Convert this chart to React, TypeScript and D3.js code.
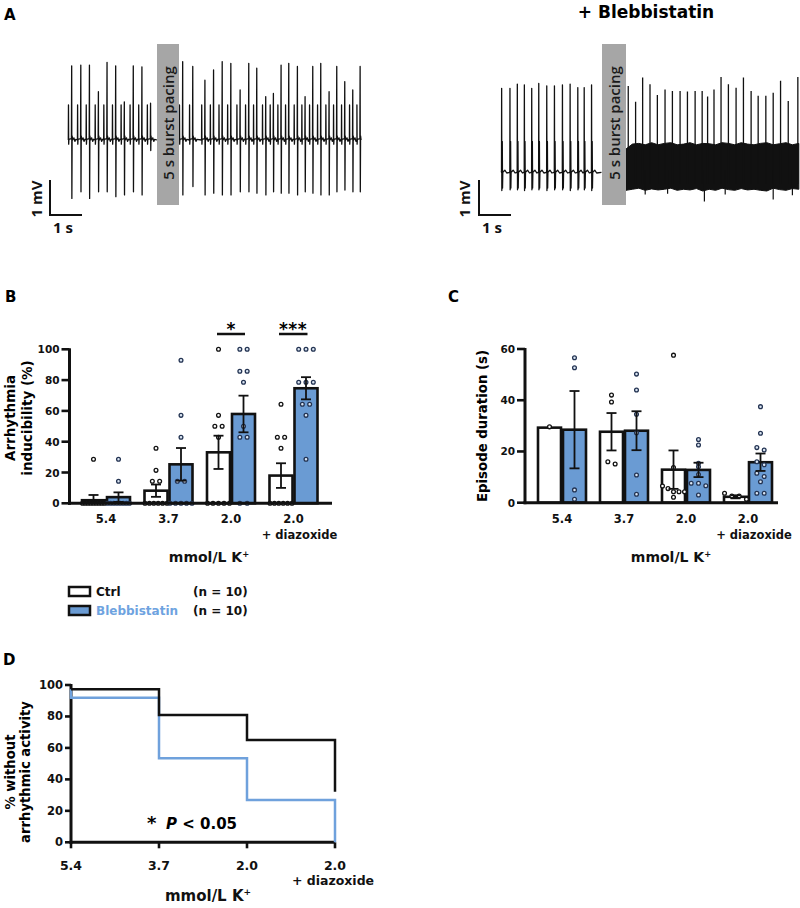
import React from "react";
import * as d3 from "d3";

// ---------------- DATA ----------------
const categories = ["5.4", "3.7", "2.0", "2.0 + diazoxide"];
const tickMain = ["5.4", "3.7", "2.0", "2.0"];
const tickSub = ["", "", "", "+ diazoxide"];

// Panel B: arrhythmia inducibility (%)
const inducTicks = [0, 20, 40, 60, 80, 100];
const inducCtrlMean = [2.0, 8.2, 33.1, 18.0];
const inducCtrlSem = [3.4, 4.0, 10.8, 8.0];
const inducBlebMean = [4.0, 25.3, 58.0, 74.7];
const inducBlebSem = [3.1, 10.6, 11.9, 7.2];
const inducCtrlDots = [
  [28.6, 0, 0, 0, 0, 0, 0, 0, 0, 0],
  [35.7, 21.4, 14.3, 14.3, 0, 0, 0, 0, 0, 0],
  [100, 57.1, 50, 50, 42.9, 0, 0, 0, 0, 0],
  [64.3, 42.9, 42.9, 35.7, 0, 0, 0, 0, 0, 0],
];
const inducBlebDots = [
  [28.6, 14.3, 0, 0, 0, 0, 0, 0, 0, 0],
  [92.9, 57.1, 42.9, 14.3, 14.3, 0, 0, 0, 0, 0],
  [100, 100, 85.7, 85.7, 78.6, 50, 42.9, 42.9, 0, 0],
  [100, 100, 100, 78.6, 78.6, 78.6, 64.3, 64.3, 57.1, 28.6],
];

// Panel C: episode duration (s)
const durTicks = [0, 20, 40, 60];
const durCtrlMean = [29.3, 27.7, 12.9, 2.3];
const durCtrlSem = [0, 7.3, 7.5, 0.6];
const durBlebMean = [28.5, 28.1, 12.8, 15.8];
const durBlebSem = [15.1, 7.6, 2.8, 3.4];
const durCtrlDots = [
  [29.6],
  [42, 39.3, 16, 15.1],
  [57.6, 13.7, 6.5, 5.5, 4.3, 4.3, 4.3, 2.1],
  [3.7, 2.6, 2.6, 1.3],
];
const durBlebDots = [
  [56.6, 52.7, 5, 1.3],
  [50.2, 44, 34.5, 27.3, 10.8, 3.3],
  [24.7, 22.5, 15.4, 14, 11, 7.6, 7.6, 6.6, 3],
  [37.5, 27.1, 21.5, 20.6, 16, 14.8, 11.5, 10.2, 8.2, 3.7, 3.7],
];

// Panel D: % without arrhythmic activity (step curves)
const survTicks = [0, 20, 40, 60, 80, 100];
const survCtrlIdx = [0, 1, 2, 3];
const survCtrl = [97.3, 80.9, 65.0, 32.2];
const survBlebIdx = [0, 0, 1, 2, 3];
const survBleb = [97.3, 91.9, 53.4, 26.9, 0];

// Panel A: ECG traces (beat times in s, amplitudes in mV)
const ctrlPreBeatT = [0.115, 0.4, 0.67, 0.95, 1.22, 1.49, 1.76, 2.04, 2.31, 2.58];
const ctrlPreBeatUp = [2.12, 2.14, 2.14, 1.38, 2.22, 2.12, 1.09, 2.12, 2.09, 1.05];
const ctrlPreBeatDown = [1.67, 1.48, 1.67, 1.48, 1.48, 1.62, 1.57, 1.48, 1.57, 0.3];
const ctrlPostBeatT = [0.115, 0.43, 0.81, 1.08, 1.35, 1.62, 1.91, 2.18, 2.43, 2.71, 2.95, 3.19, 3.43, 3.7, 3.94, 4.18, 4.43, 4.69, 4.93, 5.18, 5.43, 5.66];
const ctrlPostBeatUp = [2.24, 2.1, 1.71, 2.0, 2.24, 2.19, 1.43, 2.19, 2.05, 1.24, 1.33, 2.14, 2.19, 2.1, 1.24, 2.1, 2.19, 1.38, 2.1, 1.67, 1.43, 2.1];
const ctrlPostBeatDown = [1.57, 1.33, 1.57, 1.52, 1.57, 1.57, 1.48, 1.48, 1.52, 1.57, 1.48, 1.52, 1.52, 1.57, 1.48, 1.52, 1.57, 1.57, 1.48, 1.43, 1.48, 1.48];
const blebPreBeatT = [0.02, 0.28, 0.51, 0.73, 0.96, 1.18, 1.43, 1.67, 1.92, 2.16, 2.4, 2.6, 2.83];
const blebPreBeatUp = [2.4, 2.4, 2.52, 2.5, 2.4, 2.54, 2.47, 2.47, 2.5, 2.52, 2.42, 2.42, 2.5];
const blebPreBeatDown = [0.52, 0.5, 0.5, 0.52, 0.5, 0.5, 0.52, 0.5, 0.5, 0.52, 0.5, 0.5, 0.52];
const blebPostSpikeT = [0.07, 0.3, 0.52, 0.75, 0.98, 1.22, 1.45, 1.69, 1.92, 2.16, 2.38, 2.55, 2.75, 2.97, 3.2, 3.44, 3.67, 3.91, 4.13, 4.37, 4.6, 4.83, 5.07, 5.37];
const blebPostSpikeUp = [2.4, 1.95, 2.64, 2.45, 2.14, 2.3, 2.26, 2.26, 2.24, 2.26, 2.26, 2.1, 2.3, 2.66, 2.45, 2.35, 2.64, 2.26, 2.12, 2.12, 2.21, 2.55, 1.97, 2.66];
const blebPostDipT = [0.6, 1.3, 2.45, 3.1, 4.6, 5.2];
const blebPostDip = [-0.7, -0.68, -0.9, -0.7, -0.84, -0.72];
const blebBandT = [0, 0.2, 0.4, 0.6, 0.8, 1.0, 1.2, 1.4, 1.6, 1.8, 2.0, 2.2, 2.4, 2.6, 2.8, 3.0, 3.2, 3.4, 3.6, 3.8, 4.0, 4.2, 4.4, 4.6, 4.8, 5.0, 5.2, 5.4];
const blebBandTop = [0.6, 0.74, 0.76, 0.72, 0.78, 0.72, 0.76, 0.78, 0.72, 0.74, 0.78, 0.72, 0.76, 0.75, 0.72, 0.78, 0.76, 0.72, 0.78, 0.74, 0.72, 0.76, 0.78, 0.72, 0.75, 0.78, 0.72, 0.76];
const blebBandBottom = [-0.58, -0.55, -0.52, -0.58, -0.54, -0.57, -0.55, -0.52, -0.58, -0.55, -0.57, -0.53, -0.6, -0.55, -0.58, -0.52, -0.56, -0.58, -0.53, -0.57, -0.55, -0.58, -0.6, -0.52, -0.56, -0.58, -0.53, -0.55];

// ---------------- STYLE ----------------
const FONT = "'DejaVu Sans', 'Liberation Sans', Arial, sans-serif";
const FONT2 = "'Open Sans', 'DejaVu Sans', sans-serif";
const BLUE = "#6a9bd3";
const BLUE_LINE = "#6fa1dc";
const BLUE_TEXT = "#6ea3e0";
const DOT_BLUE_STROKE = "#233352";
const PX_PER_S = 32;
const PX_PER_MV = 35;

// ---------------- HELPERS ----------------
function layoutDots(values: number[], y: any, cx: number, maxSpan: number) {
  const sorted = values.map((v) => ({ v, py: y(v) })).sort((a, b) => a.py - b.py);
  const clusters: any[] = [];
  for (const d of sorted) {
    const last = clusters[clusters.length - 1];
    if (last && d.py - last[last.length - 1].py < 3.5) last.push(d);
    else clusters.push([d]);
  }
  const out: any[] = [];
  for (const c of clusters) {
    const n = c.length;
    const sp = n > 1 ? Math.min(7.3, maxSpan / (n - 1)) : 0;
    c.forEach((d: any, i: number) => out.push({ x: cx + (i - (n - 1) / 2) * sp, y: d.py }));
  }
  return out;
}

function beatPointsCtrl(ts: number[], ups: number[], downs: number[], dur: number) {
  const pts: [number, number][] = [[0, 0]];
  ts.forEach((t, i) => {
    pts.push(
      [t - 0.105, 0], [t - 0.1, 1.0], [t - 0.094, -0.12], [t - 0.086, 0.02],
      [t - 0.008, 0.04], [t, ups[i]], [t + 0.006, -downs[i]], [t + 0.014, 0.12],
      [t + 0.03, 0], [t + 0.07, 0.06], [t + 0.1, -0.04], [t + 0.13, 0.02]
    );
  });
  pts.push([dur, 0]);
  return pts.filter((p) => p[0] >= 0 && p[0] <= dur).sort((a, b) => a[0] - b[0]);
}

function beatPointsBleb(ts: number[], ups: number[], downs: number[], dur: number) {
  const pts: [number, number][] = [[0, 0]];
  ts.forEach((t, i) => {
    pts.push(
      [t - 0.01, 0], [t - 0.004, 0.05], [t, ups[i]], [t + 0.006, -downs[i]],
      [t + 0.012, 0.05], [t + 0.02, 0.88], [t + 0.028, -0.45], [t + 0.036, 0],
      [t + 0.1, 0.06], [t + 0.16, -0.02]
    );
  });
  pts.push([dur, 0]);
  return pts.filter((p) => p[0] >= 0 && p[0] <= dur).sort((a, b) => a[0] - b[0]);
}

function Trace({ x0, base, pts }: any) {
  const tx = d3.scaleLinear().domain([0, 1]).range([x0, x0 + PX_PER_S]);
  const my = d3.scaleLinear().domain([0, 1]).range([base, base - PX_PER_MV]);
  const line = d3.line<[number, number]>().x((d) => tx(d[0])).y((d) => my(d[1]));
  return <path d={line(pts) || ""} fill="none" stroke="#111" strokeWidth={1.3} strokeLinejoin="round" />;
}

function GrayBox({ x, w }: any) {
  return (
    <g>
      <rect x={x} y={44} width={w} height={161} fill="#a6a6a6" />
      <text
        transform={`translate(${x + w / 2},123) rotate(-90)`}
        textAnchor="middle"
        dominantBaseline="central"
        fontFamily={FONT2}
        fontWeight={600}
        fontSize={15}
        fill="#1a1a1a"
      >
        5 s burst pacing
      </text>
    </g>
  );
}

function ScaleBar({ x, labelX, sX }: any) {
  return (
    <g>
      <path d={`M${x},180 V215 H${x + 32}`} fill="none" stroke="#111" strokeWidth={2} />
      <text transform={`translate(${labelX},199) rotate(-90)`} textAnchor="middle" dominantBaseline="central" fontFamily={FONT2} fontWeight={700} fontSize={15} fill="#111">
        1 mV
      </text>
      <text x={sX} y={233} fontFamily={FONT2} fontWeight={700} fontSize={15} fill="#111">
        1 s
      </text>
    </g>
  );
}

function PanelA() {
  const ctrlPre = beatPointsCtrl(ctrlPreBeatT, ctrlPreBeatUp, ctrlPreBeatDown, 2.78);
  const ctrlPost = beatPointsCtrl(ctrlPostBeatT, ctrlPostBeatUp, ctrlPostBeatDown, 5.69);
  const blebPre = beatPointsBleb(blebPreBeatT, blebPreBeatUp, blebPreBeatDown, 3.14);

  const rx0 = 626, rBase = 170;
  const tx = d3.scaleLinear().domain([0, 1]).range([rx0, rx0 + PX_PER_S]);
  const my = d3.scaleLinear().domain([0, 1]).range([rBase, rBase - PX_PER_MV]);
  const area = d3
    .area<number>()
    .x((_, i) => tx(blebBandT[i]))
    .y0((_, i) => my(blebBandBottom[i]))
    .y1((_, i) => my(blebBandTop[i]));
  const spikes = blebPostSpikeT
    .map((t, i) => `M${tx(t)},${my(-0.4)} L${tx(t)},${my(blebPostSpikeUp[i])}`)
    .join(" ");
  const dips = blebPostDipT
    .map((t, i) => `M${tx(t)},${my(0)} L${tx(t)},${my(blebPostDip[i])}`)
    .join(" ");

  return (
    <g>
      <text x={4} y={20} fontFamily={FONT} fontWeight={700} fontSize={15}>A</text>
      <text x={646} y={18} textAnchor="middle" fontFamily={FONT} fontWeight={700} fontSize={17}>+ Blebbistatin</text>
      <Trace x0={68} base={140} pts={ctrlPre} />
      <Trace x0={179} base={140} pts={ctrlPost} />
      <GrayBox x={157} w={22} />
      <ScaleBar x={50} labelX={36} sX={53} />

      <Trace x0={501} base={172.3} pts={blebPre} />
      <path d={area(blebBandT) || ""} fill="#111" stroke="#111" strokeWidth={1} />
      <path d={spikes} stroke="#111" strokeWidth={1.3} fill="none" />
      <path d={dips} stroke="#111" strokeWidth={1.2} fill="none" />
      <GrayBox x={602} w={24} />
      <ScaleBar x={479} labelX={464} sX={482} />
    </g>
  );
}

function BarPanel(p: any) {
  const { x, y, ticks, axisX, axisRight, ctrlMean, ctrlSem, blebMean, blebSem, ctrlDots, blebDots } = p;
  const y0 = y(0);
  const yTop = y(ticks[ticks.length - 1]);
  const barW = 23;
  const errBar = (cx: number, m: number, s: number, key: string) => {
    if (s <= 0) return null;
    const hi = y(m + s);
    const lo = y(Math.max(0, m - s));
    return (
      <g key={key} stroke="#111" strokeWidth={1.8}>
        <line x1={cx} x2={cx} y1={hi} y2={lo} />
        <line x1={cx - 5} x2={cx + 5} y1={hi} y2={hi} />
        {m - s > 0 && <line x1={cx - 5} x2={cx + 5} y1={lo} y2={lo} />}
      </g>
    );
  };
  return (
    <g>
      {categories.map((c, i) => {
        const cx = x(c);
        return (
          <g key={c}>
            <rect x={cx - 24} y={y(ctrlMean[i])} width={barW} height={y0 - y(ctrlMean[i])} fill="#fff" stroke="#111" strokeWidth={2.6} />
            <rect x={cx + 1} y={y(blebMean[i])} width={barW} height={y0 - y(blebMean[i])} fill={BLUE} stroke="#111" strokeWidth={2.6} />
          </g>
        );
      })}
      {categories.map((c, i) => {
        const cx = x(c);
        const cd = layoutDots(ctrlDots[i], y, cx - 12.5, 22);
        const bd = layoutDots(blebDots[i], y, cx + 12.5, 22);
        return (
          <g key={"d" + c}>
            {cd.map((d: any, j: number) => (
              <circle key={j} cx={d.x} cy={d.y} r={1.9} fill="#fff" stroke="#111" strokeWidth={1.3} />
            ))}
            {bd.map((d: any, j: number) => (
              <circle key={j} cx={d.x} cy={d.y} r={1.9} fill="#dbe6f3" stroke={DOT_BLUE_STROKE} strokeWidth={1.3} />
            ))}
          </g>
        );
      })}
      {categories.map((c, i) => {
        const cx = x(c);
        return (
          <g key={"e" + c}>
            {errBar(cx - 12.5, ctrlMean[i], ctrlSem[i], "c")}
            {errBar(cx + 12.5, blebMean[i], blebSem[i], "b")}
          </g>
        );
      })}
      <line x1={axisX} x2={axisX} y1={yTop - 1} y2={y0 + 1.5} stroke="#111" strokeWidth={3} />
      <line x1={axisX - 1.5} x2={axisRight} y1={y0} y2={y0} stroke="#111" strokeWidth={3} />
      {ticks.map((t: number) => (
        <g key={t}>
          <line x1={axisX - 8} x2={axisX} y1={y(t)} y2={y(t)} stroke="#111" strokeWidth={2.6} />
          <text x={axisX - 10} y={y(t)} textAnchor="end" dominantBaseline="central" fontFamily={FONT} fontWeight={700} fontSize={10.5} fill="#111">
            {t}
          </text>
        </g>
      ))}
      {categories.map((c, i) => (
        <g key={"t" + c}>
          <text x={x(c)} y={523} textAnchor="middle" fontFamily={FONT} fontWeight={700} fontSize={11.5} fill="#111">
            {tickMain[i]}
          </text>
          {tickSub[i] && (
            <text x={x(c) + 6} y={539} textAnchor="middle" fontFamily={FONT} fontWeight={700} fontSize={11.5} fill="#111">
              {tickSub[i]}
            </text>
          )}
        </g>
      ))}
    </g>
  );
}

function KLabel({ x, y, size }: any) {
  return (
    <text x={x} y={y} textAnchor="middle" fontFamily={FONT} fontWeight={700} fontSize={size} fill="#111">
      mmol/L K<tspan dy={-size * 0.38} fontSize={size * 0.6}>+</tspan>
    </text>
  );
}

function PanelB() {
  const x = d3.scalePoint<string>().domain(categories).range([106, 293.5]);
  const y = d3.scaleLinear().domain([0, 100]).range([503.3, 349.3]);
  return (
    <g>
      <text x={5} y={302} fontFamily={FONT} fontWeight={700} fontSize={15}>B</text>
      <BarPanel
        x={x} y={y} ticks={inducTicks} axisX={69.5} axisRight={332}
        ctrlMean={inducCtrlMean} ctrlSem={inducCtrlSem}
        blebMean={inducBlebMean} blebSem={inducBlebSem}
        ctrlDots={inducCtrlDots} blebDots={inducBlebDots}
      />
      <line x1={217} x2={245} y1={334} y2={334} stroke="#111" strokeWidth={2.5} />
      <text x={231} y={335} textAnchor="middle" fontFamily={FONT} fontWeight={700} fontSize={17}>*</text>
      <line x1={279} x2={307.5} y1={334} y2={334} stroke="#111" strokeWidth={2.5} />
      <text x={293} y={335} textAnchor="middle" fontFamily={FONT} fontWeight={700} fontSize={17} letterSpacing={0.5}>***</text>
      <g transform="translate(10,418) rotate(-90)">
        <text textAnchor="middle" dominantBaseline="central" fontFamily={FONT} fontWeight={700} fontSize={13.5}>Arrhythmia</text>
      </g>
      <g transform="translate(27,418) rotate(-90)">
        <text textAnchor="middle" dominantBaseline="central" fontFamily={FONT} fontWeight={700} fontSize={13.5}>inducibility (%)</text>
      </g>
      <KLabel x={209} y={562} size={14} />
      <rect x={69} y={587} width={21} height={9} fill="#fff" stroke="#111" strokeWidth={2.5} />
      <text x={96} y={596} fontFamily={FONT} fontWeight={700} fontSize={12} fill="#111">Ctrl</text>
      <text x={193} y={596} fontFamily={FONT} fontWeight={700} fontSize={12} fill="#111">(n = 10)</text>
      <rect x={69} y={606} width={21} height={9} fill={BLUE} stroke="#111" strokeWidth={2.5} />
      <text x={96} y={615} fontFamily={FONT} fontWeight={700} fontSize={12} fill={BLUE_TEXT}>Blebbistatin</text>
      <text x={193} y={615} fontFamily={FONT} fontWeight={700} fontSize={12} fill="#111">(n = 10)</text>
    </g>
  );
}

function PanelC() {
  const x = d3.scalePoint<string>().domain(categories).range([562, 748]);
  const y = d3.scaleLinear().domain([0, 60]).range([502.7, 349]);
  return (
    <g>
      <text x={448} y={302} fontFamily={FONT} fontWeight={700} fontSize={15}>C</text>
      <BarPanel
        x={x} y={y} ticks={durTicks} axisX={525} axisRight={778}
        ctrlMean={durCtrlMean} ctrlSem={durCtrlSem}
        blebMean={durBlebMean} blebSem={durBlebSem}
        ctrlDots={durCtrlDots} blebDots={durBlebDots}
      />
      <g transform="translate(482,426) rotate(-90)">
        <text textAnchor="middle" dominantBaseline="central" fontFamily={FONT} fontWeight={700} fontSize={13.3}>Episode duration (s)</text>
      </g>
      <KLabel x={671} y={562} size={14} />
    </g>
  );
}

function PanelD() {
  const x = d3.scalePoint<number>().domain([0, 1, 2, 3]).range([71, 335]);
  const y = d3.scaleLinear().domain([0, 100]).range([842.3, 685]);
  const line = d3
    .line<[number, number]>()
    .x((d) => x(d[0]) as number)
    .y((d) => y(d[1]))
    .curve(d3.curveStepAfter);
  const ctrlPts = survCtrlIdx.map((v, i) => [v, survCtrl[i]] as [number, number]);
  const blebPts = survBlebIdx.map((v, i) => [v, survBleb[i]] as [number, number]);
  const y0 = y(0);
  return (
    <g>
      <text x={3} y={665} fontFamily={FONT} fontWeight={700} fontSize={15}>D</text>
      <line x1={71} x2={71} y1={y(100) - 1} y2={y0 + 1.5} stroke="#111" strokeWidth={3} />
      <line x1={69.5} x2={335} y1={y0} y2={y0} stroke="#111" strokeWidth={3} />
      {survTicks.map((t) => (
        <g key={t}>
          <line x1={65} x2={71} y1={y(t)} y2={y(t)} stroke="#111" strokeWidth={2.6} />
          <text x={63} y={y(t)} textAnchor="end" dominantBaseline="central" fontFamily={FONT} fontWeight={700} fontSize={11.5} fill="#111">
            {t}
          </text>
        </g>
      ))}
      {[0, 1, 2, 3].map((i) => (
        <g key={i}>
          <line x1={x(i)} x2={x(i)} y1={y0} y2={y0 + 6} stroke="#111" strokeWidth={2.6} />
          <text x={x(i)} y={870} textAnchor="middle" fontFamily={FONT} fontWeight={700} fontSize={12.5} fill="#111">
            {tickMain[i]}
          </text>
          {tickSub[i] && (
            <text x={(x(i) as number) - 2} y={885} textAnchor="middle" fontFamily={FONT} fontWeight={700} fontSize={12.5} fill="#111">
              {tickSub[i]}
            </text>
          )}
        </g>
      ))}
      <path d={line(blebPts) || ""} fill="none" stroke={BLUE_LINE} strokeWidth={2.5} />
      <path d={line(ctrlPts) || ""} fill="none" stroke="#111" strokeWidth={2.5} />
      <text x={147} y={829} fontFamily={FONT} fontWeight={700} fontSize={18}>*</text>
      <text x={166} y={829} fontFamily={FONT} fontWeight={700} fontSize={15}>
        <tspan fontStyle="italic">P</tspan> &lt; 0.05
      </text>
      <g transform="translate(10,772) rotate(-90)">
        <text textAnchor="middle" dominantBaseline="central" fontFamily={FONT} fontWeight={700} fontSize={13.2}>% without</text>
      </g>
      <g transform="translate(25,772) rotate(-90)">
        <text textAnchor="middle" dominantBaseline="central" fontFamily={FONT} fontWeight={700} fontSize={13.2}>arrhythmic activity</text>
      </g>
      <KLabel x={208} y={901} size={15} />
    </g>
  );
}

export default function App() {
  return (
    <svg width={800} height={908} viewBox="0 0 800 908" style={{ position: "absolute", left: 0, top: 0, background: "#fff" }}>
      <rect width={800} height={908} fill="#fff" />
      <PanelA />
      <PanelB />
      <PanelC />
      <PanelD />
    </svg>
  );
}
